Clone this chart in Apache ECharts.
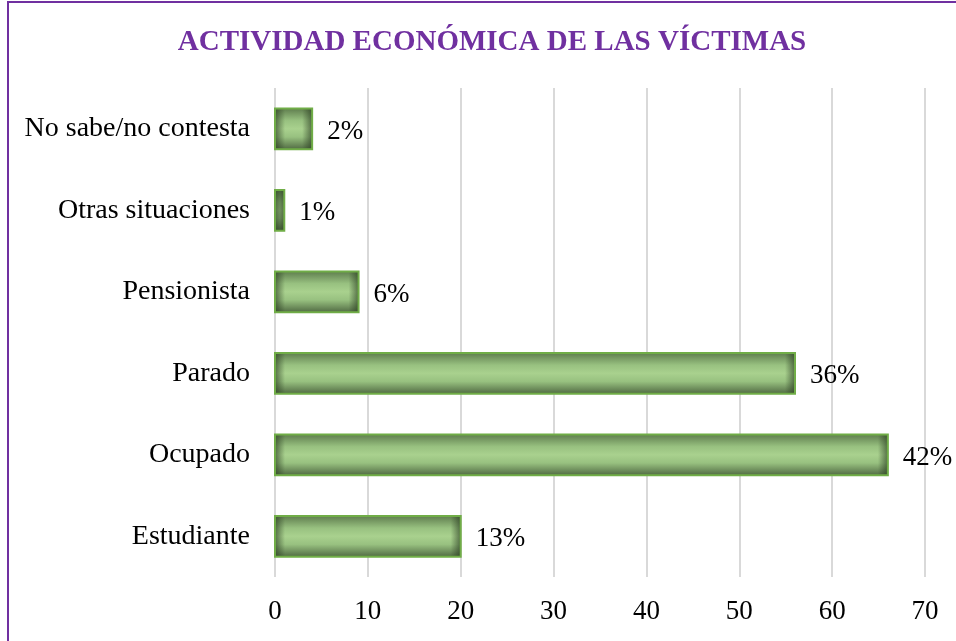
<!DOCTYPE html>
<html>

<head>
    <meta charset="utf-8">
    <script src="https://cdn.jsdelivr.net/npm/echarts@6/dist/echarts.min.js"></script>
    <title>Actividad economica</title>
</head>

<body style="margin:0;background:#fff;">
    <div id="main" style="position:absolute;left:0;top:0;width:956px;height:641px;"></div>
    <script type="text/javascript">
        // data, bottom to top as in the source sheet
        var categories = ['Estudiante', 'Ocupado', 'Parado', 'Pensionista', 'Otras situaciones', 'No sabe/no contesta'];
        var counts = [20, 66, 56, 9, 1, 4];
        var percentLabels = ['13%', '42%', '36%', '6%', '1%', '2%'];
        var xTicks = [0, 10, 20, 30, 40, 50, 60, 70];

        var serif = '"Liberation Serif", "Times New Roman", serif';
        var myChart = echarts.init(document.getElementById('main'));

        var seriesData = [];
        for (var i = 0; i < counts.length; i++) {
            seriesData.push([counts[i], i]);
        }

        function renderBar(params, api) {
            var v = api.value(0);
            var idx = api.value(1);
            var start = api.coord([0, idx]);
            var end = api.coord([v, idx]);
            var h = api.size([0, 1])[1] * 0.5;
            var x = start[0];
            var y = start[1] - h / 2;
            var w = end[0] - start[0];
            var edge = Math.min(0.45, 10 / w);
            // narrow bars are dark all over (inner shadow overlaps)
            var midAlpha = 0.65 * (1 - Math.min(1, w / 30));
            var shade = function (a) { return 'rgba(40,58,32,' + a + ')'; };
            return {
                type: 'group',
                children: [{
                    type: 'rect',
                    shape: { x: x, y: y, width: w, height: h },
                    style: {
                        fill: new echarts.graphic.LinearGradient(0, 0, 0, 1, [
                            { offset: 0, color: '#5f7d4e' },
                            { offset: 0.3, color: '#98c180' },
                            { offset: 0.5, color: '#a9d18e' },
                            { offset: 0.7, color: '#98c180' },
                            { offset: 1, color: '#526c44' }
                        ])
                    }
                }, {
                    type: 'rect',
                    shape: { x: x, y: y, width: w, height: h },
                    style: {
                        fill: new echarts.graphic.LinearGradient(0, 0, 1, 0, [
                            { offset: 0, color: shade(0.65) },
                            { offset: edge, color: shade(midAlpha) },
                            { offset: 1 - edge, color: shade(midAlpha) },
                            { offset: 1, color: shade(0.65) }
                        ])
                    }
                }, {
                    type: 'rect',
                    shape: { x: x, y: y, width: w, height: h },
                    style: { fill: 'none', stroke: '#70ad47', lineWidth: 2 }
                }, {
                    type: 'text',
                    x: end[0] + 15,
                    y: start[1] + 3,
                    style: {
                        text: percentLabels[params.dataIndex],
                        fill: '#000',
                        font: '27px ' + serif,
                        verticalAlign: 'middle',
                        align: 'left'
                    }
                }]
            };
        }

        var option = {
            animation: false,
            textStyle: { fontFamily: serif },
            title: {
                text: 'ACTIVIDAD ECONÓMICA DE LAS VÍCTIMAS',
                left: 487,
                top: 23,
                textAlign: 'center',
                textStyle: {
                    color: '#7030a0',
                    fontSize: 29,
                    fontWeight: 'bold',
                    fontFamily: serif
                }
            },
            graphic: [{
                type: 'polyline',
                shape: { points: [[8, 641], [8, 2], [956, 2]] },
                style: { stroke: '#7030a0', lineWidth: 2, fill: 'none' },
                silent: true
            }],
            grid: {
                left: 275,
                right: 31,
                top: 88,
                bottom: 64,
                containLabel: false
            },
            xAxis: {
                type: 'value',
                min: xTicks[0],
                max: xTicks[xTicks.length - 1],
                interval: 10,
                axisLine: { show: false },
                axisTick: { show: false },
                splitLine: { show: true, lineStyle: { color: '#d9d9d9', width: 2 } },
                axisLabel: {
                    color: '#000',
                    fontSize: 27,
                    margin: 21,
                    fontFamily: serif
                }
            },
            yAxis: {
                type: 'category',
                data: categories,
                axisLine: { show: false },
                axisTick: { show: false },
                splitLine: { show: false },
                axisLabel: {
                    color: '#000',
                    fontSize: 28,
                    margin: 25,
                    padding: [6, 0, 0, 0],
                    fontFamily: serif
                }
            },
            series: [{
                type: 'custom',
                renderItem: renderBar,
                encode: { x: 0, y: 1 },
                data: seriesData
            }]
        };

        myChart.setOption(option);
    </script>
</body>

</html>
